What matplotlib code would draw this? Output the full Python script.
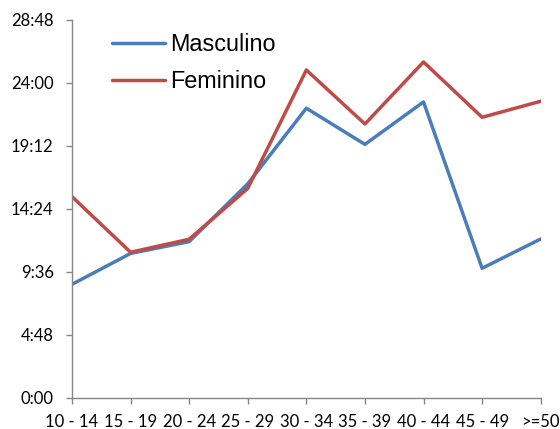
import matplotlib
matplotlib.use("Agg")
import matplotlib.pyplot as plt
from matplotlib.ticker import FuncFormatter, FixedLocator

# Age groups and average time (hours) per group
categories = ["10 - 14", "15 - 19", "20 - 24", "25 - 29", "30 - 34",
              "35 - 39", "40 - 44", "45 - 49", ">=50"]
masculino = [8.65, 11.0, 11.9, 16.3, 22.05, 19.3, 22.53, 9.87, 12.1]
feminino = [15.32, 11.09, 12.08, 15.95, 24.96, 20.85, 25.57, 21.36, 22.58]
y_ticks = [0, 4.8, 9.6, 14.4, 19.2, 24.0, 28.8]


def hhmm(v, _pos=None):
    total = int(round(v * 60))
    return f"{total // 60}:{total % 60:02d}"


fig = plt.figure(figsize=(5.6, 4.29), dpi=100)
ax = fig.add_axes([0.1286, 0.0723, 0.8369, 0.8822])

x = list(range(len(categories)))
ax.plot(x, masculino, color="#4A7EBB", lw=2.5, label="Masculino",
        solid_joinstyle="round", solid_capstyle="round")
ax.plot(x, feminino, color="#BE4B48", lw=2.5, label="Feminino",
        solid_joinstyle="round", solid_capstyle="round")

ax.set_xlim(0, len(categories) - 1)
ax.set_ylim(0, 28.8)
ax.yaxis.set_major_locator(FixedLocator(y_ticks))
ax.yaxis.set_major_formatter(FuncFormatter(hhmm))
ax.set_xticks(x)
ax.set_xticklabels(categories)

for side in ("top", "right"):
    ax.spines[side].set_visible(False)
for side in ("left", "bottom"):
    ax.spines[side].set_color("#868686")
    ax.spines[side].set_linewidth(1.0)
ax.tick_params(axis="both", colors="#868686", length=4.2, width=1.0,
               labelcolor="black", labelsize=12)
ax.tick_params(axis="y", pad=9)
ax.tick_params(axis="x", pad=7)
for lbl in ax.get_xticklabels() + ax.get_yticklabels():
    lbl.set_family("Lato")
for spine in ax.spines.values():
    spine.set_clip_on(False)

leg = ax.legend(loc="upper left", bbox_to_anchor=(0.04, 1.02), frameon=False,
                prop={"family": "Liberation Sans", "size": 16.8},
                handlelength=2.3, handletextpad=0.2, labelspacing=0.6)

fig.savefig("out.png", dpi=100)
